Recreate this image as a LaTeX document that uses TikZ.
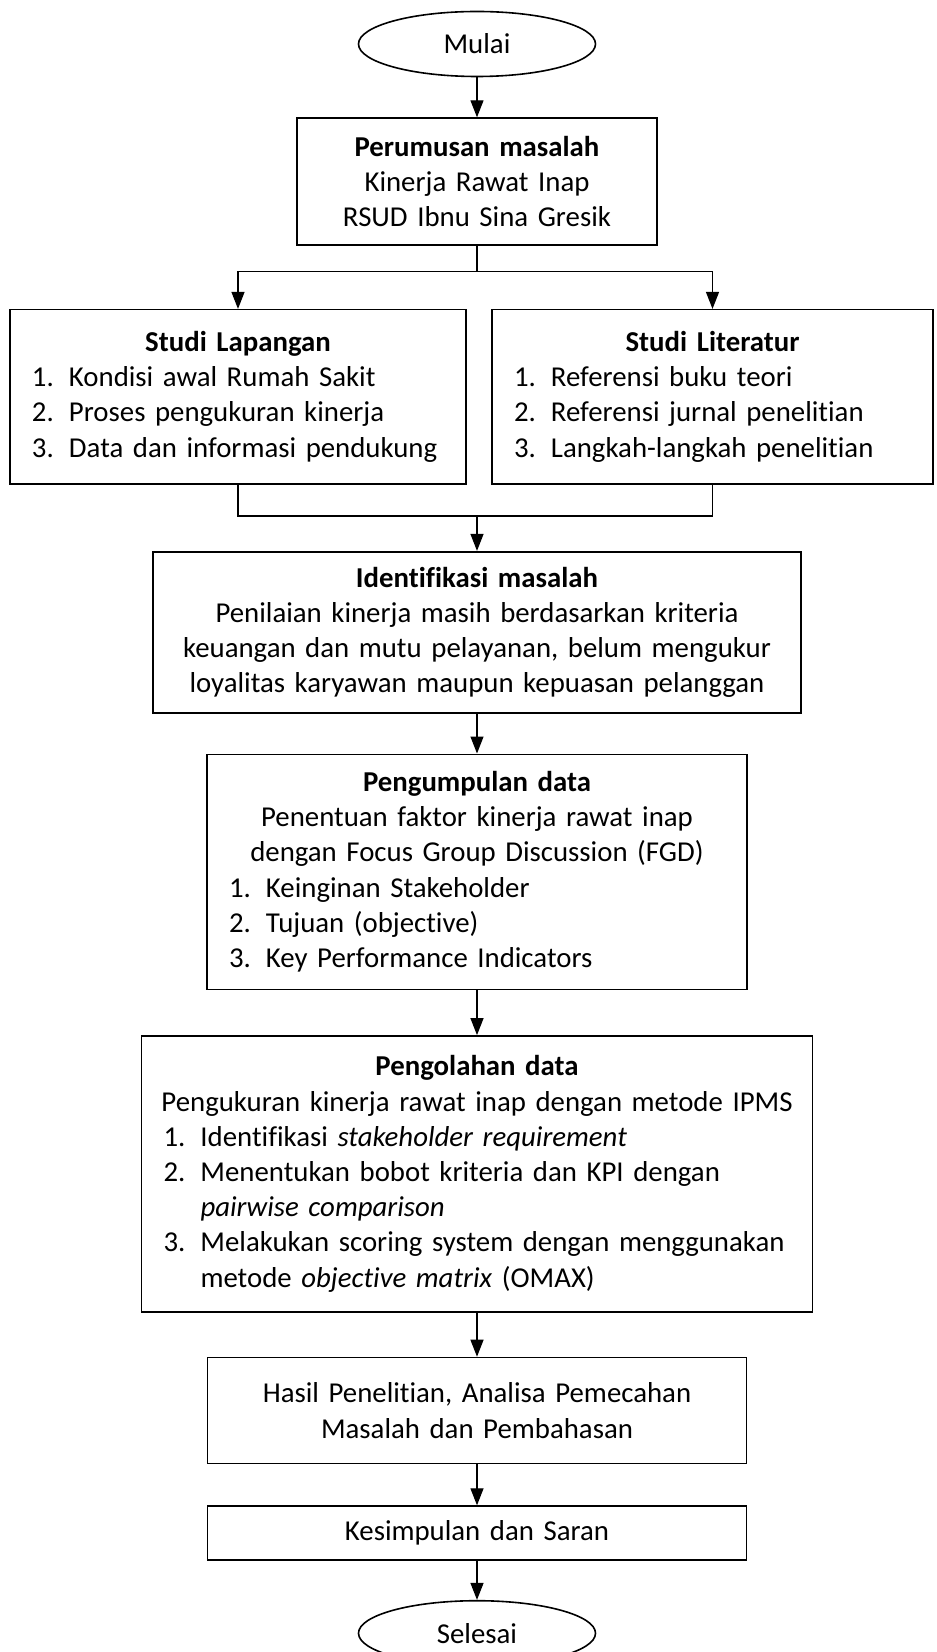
\documentclass[tikz,border=0pt]{standalone}
\usepackage{fontspec}
\setmainfont{Carlito}[Ligatures=NoCommon]
\usetikzlibrary{arrows.meta, positioning, shapes.geometric}

\setlength{\parindent}{0pt}
\newcommand{\judul}[1]{{\centering\textbf{#1}\par}}
\newcommand{\baris}[1]{{\centering #1\par}}
\newcommand{\itm}[2]{\hspace*{11pt}\makebox[18.5pt][l]{#1}#2\par}
\newcommand{\lanjut}[1]{\hspace*{29.5pt}#1\par}

\begin{document}
\begin{tikzpicture}[
	every node/.style={font=\fontsize{14.4}{17.6}\selectfont, inner sep=0pt},
	terminal/.style={ellipse, draw, line width=0.8pt, minimum width=118.5pt, minimum height=32.5pt},
	proses/.style={rectangle, draw, line width=0.8pt, align=center},
	daftar/.style={rectangle, draw, line width=0.8pt, align=left},
	garis/.style={line width=0.6pt},
	panah/.style={garis, -{Triangle[length=8.5pt, width=6.5pt]}}
	]
	\useasboundingbox (0,0) rectangle (468pt,-826pt);
	
	% --- KOTAK DAN TERMINAL ---
	\node[terminal] (mulai) at (238.5pt,-22pt) {Mulai};
	\node[proses, text width=180pt, minimum height=63.5pt, below=20pt of mulai] (rumus)
		{\textbf{Perumusan masalah}\\ Kinerja Rawat Inap\\ RSUD Ibnu Sina Gresik};
	\node[daftar, text width=228pt, minimum height=87pt, below=31.5pt of rumus, xshift=-119.5pt] (lapangan)
		{\judul{Studi Lapangan}
		\itm{1.}{Kondisi awal Rumah Sakit}
		\itm{2.}{Proses pengukuran kinerja}
		\itm{3.}{Data dan informasi pendukung}};
	\node[daftar, text width=220.5pt, minimum height=87pt, below=31.5pt of rumus, xshift=117.75pt] (literatur)
		{\judul{Studi Literatur}
		\itm{1.}{Referensi buku teori}
		\itm{2.}{Referensi jurnal penelitian}
		\itm{3.}{Langkah-langkah penelitian}};
	\node[proses, text width=324pt, minimum height=80.5pt, below=152.5pt of rumus] (identifikasi)
		{\textbf{Identifikasi masalah}\\ Penilaian kinerja masih berdasarkan kriteria\\
		keuangan dan mutu pelayanan, belum mengukur\\ loyalitas karyawan maupun kepuasan pelanggan};
	\node[daftar, text width=270pt, minimum height=117.5pt, below=20pt of identifikasi] (kumpul)
		{\judul{Pengumpulan data}
		\baris{Penentuan faktor kinerja rawat inap}
		\baris{dengan Focus Group Discussion (FGD)}
		\itm{1.}{Keinginan Stakeholder}
		\itm{2.}{Tujuan (objective)}
		\itm{3.}{Key Performance Indicators}};
	\node[daftar, text width=335.5pt, minimum height=138pt, below=22.5pt of kumpul] (olah)
		{\judul{Pengolahan data}
		\baris{Pengukuran kinerja rawat inap dengan metode IPMS}
		\itm{1.}{Identifikasi \textit{stakeholder requirement}}
		\itm{2.}{Menentukan bobot kriteria dan KPI dengan}
		\lanjut{\textit{pairwise comparison}}
		\itm{3.}{Melakukan scoring system dengan menggunakan}
		\lanjut{metode \textit{objective matrix} (OMAX)}};
	\node[proses, text width=269.5pt, minimum height=53pt, below=22pt of olah] (hasil)
		{Hasil Penelitian, Analisa Pemecahan\\ Masalah dan Pembahasan};
	\node[proses, text width=269.5pt, minimum height=27pt, below=20.5pt of hasil] (simpul)
		{Kesimpulan dan Saran};
	\node[terminal, below=19.5pt of simpul] (selesai) {Selesai};
	
	% --- TITIK CABANG ---
	\coordinate[below=13pt of rumus] (cabang);
	\coordinate[above=17.5pt of identifikasi] (gabung);
	
	% --- PANAH ---
	\draw[panah] (mulai) -- (rumus);
	\draw[garis] (rumus) -- (cabang);
	\draw[panah] (cabang) -| (lapangan);
	\draw[panah] (cabang) -| (literatur);
	\draw[garis] (lapangan) |- (gabung) -| (literatur);
	\draw[panah] (gabung) -- (identifikasi);
	\draw[panah] (identifikasi) -- (kumpul);
	\draw[panah] (kumpul) -- (olah);
	\draw[panah] (olah) -- (hasil);
	\draw[panah] (hasil) -- (simpul);
	\draw[panah] (simpul) -- (selesai);
	
\end{tikzpicture}
\end{document}
